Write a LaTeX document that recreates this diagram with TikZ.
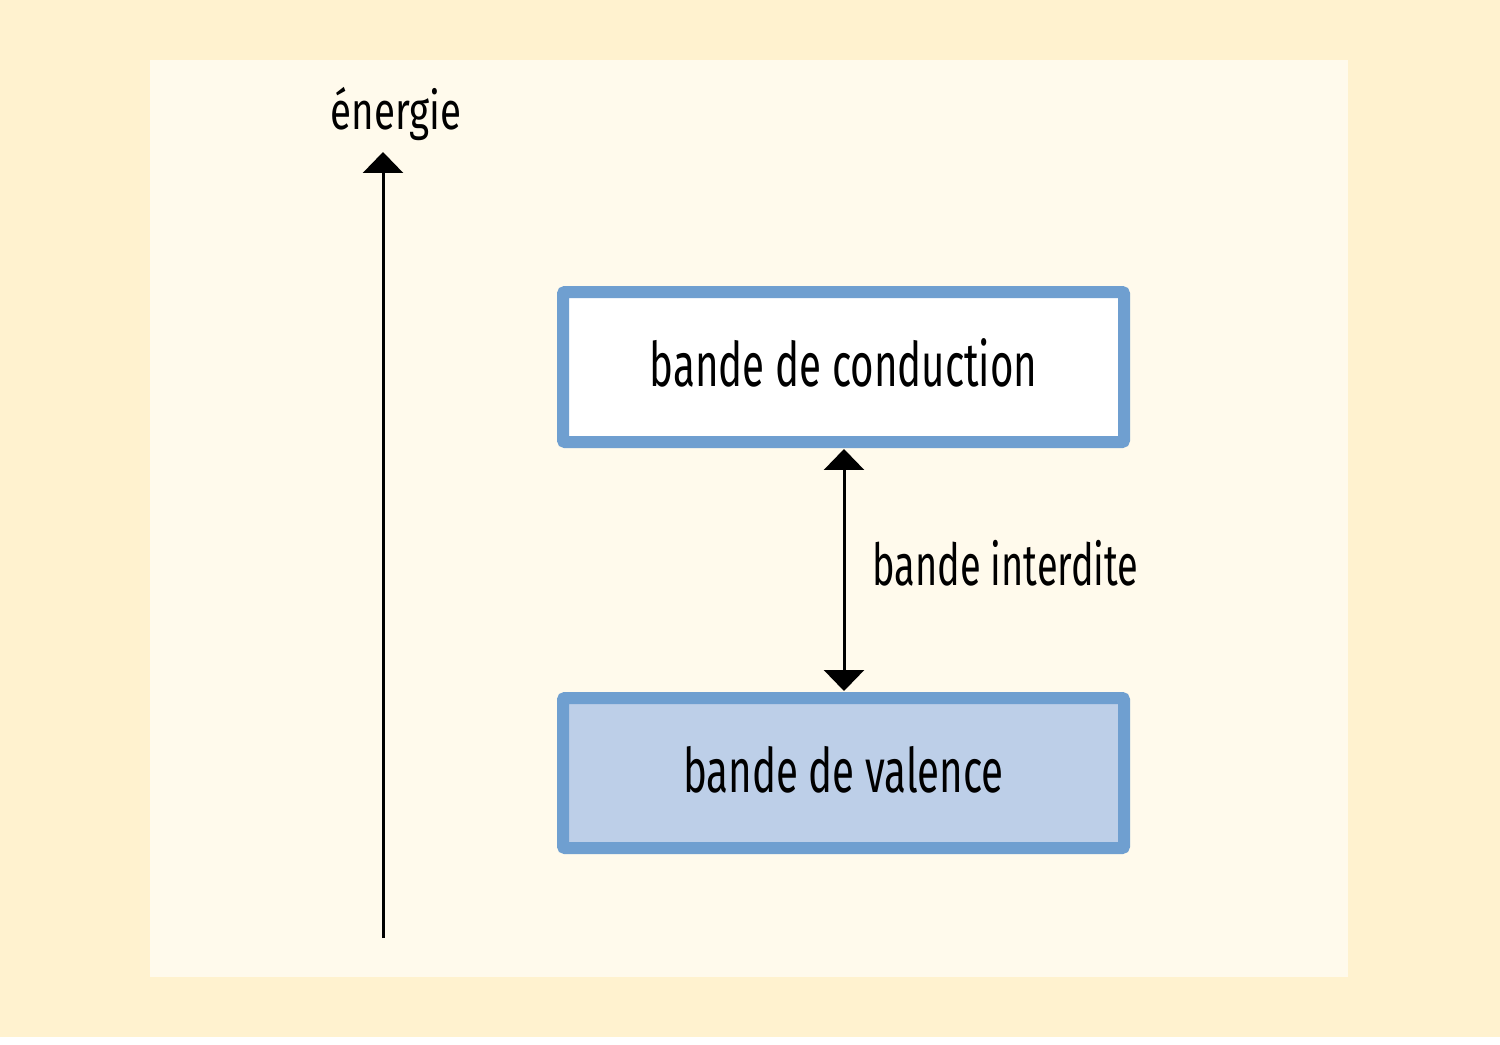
\documentclass[tikz,border=0pt]{standalone}
\usepackage{fontspec}
\setmainfont{Fira Sans}[FakeStretch=0.655]
\newfontfamily\enfont{Fira Sans}[FakeStretch=0.73]
\usetikzlibrary{arrows.meta}
\definecolor{outerbg}{HTML}{FFF2CF}
\definecolor{innerbg}{HTML}{FFFAEC}
\definecolor{bandborder}{HTML}{6F9FD0}
\definecolor{valfill}{HTML}{BDCFE8}
\tikzset{
  band/.style={draw=bandborder, line width=0.24cm, rounded corners=0.04cm},
  arrowline/.style={line width=0.06cm, -{Triangle[width=0.8cm,length=0.42cm]}},
  darrowline/.style={line width=0.06cm, {Triangle[width=0.8cm,length=0.42cm]}-{Triangle[width=0.8cm,length=0.42cm]}},
  bigtext/.style={font=\fontsize{35}{40}\selectfont},
  lbltext/.style={font=\fontsize{33}{38}\selectfont},
}
\begin{document}
\begin{tikzpicture}[x=0.02cm,y=-0.02cm]
\useasboundingbox (0,0) rectangle (1500,1044);
\fill[white] (0,0) rectangle (1500,1044);
\fill[outerbg] (0,0) rectangle (1500,1037);
\fill[innerbg] (150,60) rectangle (1348,977);
% bands
\draw[band, fill=white] (563,292) rectangle (1124,442);
\draw[band, fill=valfill] (563,698) rectangle (1124,848);
\node[bigtext, anchor=base] (cond) at (843.5,386) {bande de conduction};
\node[bigtext, anchor=base] (val) at (843.5,792) {bande de valence};
\coordinate (condb) at (844,449);
\coordinate (valt) at (844,691);
\draw[darrowline] (condb) -- (valt);
\node[lbltext, anchor=base west, inner sep=0pt] (gap) at (872,585) {bande interdite};
% energy axis
\coordinate (ebot) at (383,938);
\coordinate (etop) at (383,152);
\draw[arrowline] (ebot) -- (etop);
\node[font=\enfont\fontsize{30}{34}\selectfont, anchor=base] (en) at (396,130) {énergie};
\end{tikzpicture}
\end{document}
